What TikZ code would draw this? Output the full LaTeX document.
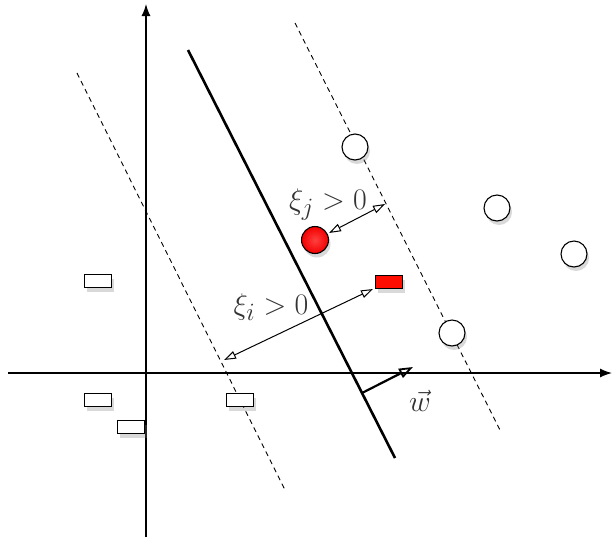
\documentclass[tikz,border=0pt]{standalone}
\usepackage{graphicx}
\usetikzlibrary{arrows.meta,shadows}
\newcommand{\biglab}[1]{\scalebox{1.2}{\fontsize{24.88}{30}\selectfont #1}}
\tikzset{
  axisline/.style={line width=1.3pt, -{Latex[length=12pt,width=9pt]}},
  hyperline/.style={line width=2.6pt},
  marginline/.style={line width=0.9pt, dash pattern=on 5pt off 4pt},
  slackarrow/.style={line width=1pt, {Triangle[open,length=12pt,width=8pt]}-{Triangle[open,length=12pt,width=8pt]}},
  wvec/.style={line width=2.2pt, -{Triangle[open,length=14pt,width=10pt,line width=1.8pt]}},
  shad/.style={drop shadow={opacity=0.3, shadow xshift=2pt, shadow yshift=-4pt}},
  poscirc/.style={circle, draw=black, line width=1.1pt, fill=white, minimum size=26pt, inner sep=0pt, shad},
  negrect/.style={rectangle, draw=black, line width=1.1pt, fill=white, minimum width=27pt, minimum height=13pt, inner sep=0pt, shad},
  lab/.style={inner sep=0pt, text=black!80}
}
\begin{document}
\begin{tikzpicture}[x=1pt,y=-1pt]
\useasboundingbox (0,0) rectangle (612,539);
% axes
\coordinate (xl) at (8,373);
\coordinate (xr) at (612,373);
\coordinate (yb) at (146,537);
\coordinate (yt) at (146,4);
\draw[axisline] (xl) -- (xr);
\draw[axisline] (yb) -- (yt);
% separating line and margins
\coordinate (h1) at (188,50);
\coordinate (h2) at (395,458);
\draw[hyperline] (h1) -- (h2);
\coordinate (m1a) at (77,73);
\coordinate (m1b) at (285,490);
\draw[marginline] (m1a) -- (m1b);
\coordinate (m2a) at (295,23);
\coordinate (m2b) at (500,430);
\draw[marginline] (m2a) -- (m2b);
% points
\node[poscirc] (c1) at (355,147) {};
\node[poscirc] (c2) at (497,208) {};
\node[poscirc] (c3) at (574,254) {};
\node[poscirc] (c4) at (452,333) {};
\node[circle, draw=black, line width=1.1pt, minimum size=27pt, inner sep=0pt,
      shade, inner color=red!75!white, outer color=red!95!black, shad] (rc) at (315,240) {};
\node[negrect, fill=red!90!orange] (rr) at (389,282) {};
\node[negrect] (r1) at (98,281) {};
\node[negrect] (r2) at (98,400) {};
\node[negrect] (r3) at (131,427) {};
\node[negrect] (r4) at (240,400) {};
% slack arrows
\coordinate (si1) at (224,360);
\coordinate (si2) at (373,289);
\draw[slackarrow] (si1) -- (si2);
\coordinate (sj1) at (329,233);
\coordinate (sj2) at (385,204);
\draw[slackarrow] (sj1) -- (sj2);
\node[lab] (li) at (271,307) {\biglab{$\xi_i > 0$}};
\node[lab] (lj) at (328,205) {\biglab{$\xi_j > 0$}};
% w vector
\coordinate (w1) at (362,393);
\coordinate (w2) at (413,367);
\draw[wvec] (w1) -- (w2);
\node[lab] (lw) at (420,401) {\biglab{$\vec{w}$}};
\end{tikzpicture}
\end{document}
